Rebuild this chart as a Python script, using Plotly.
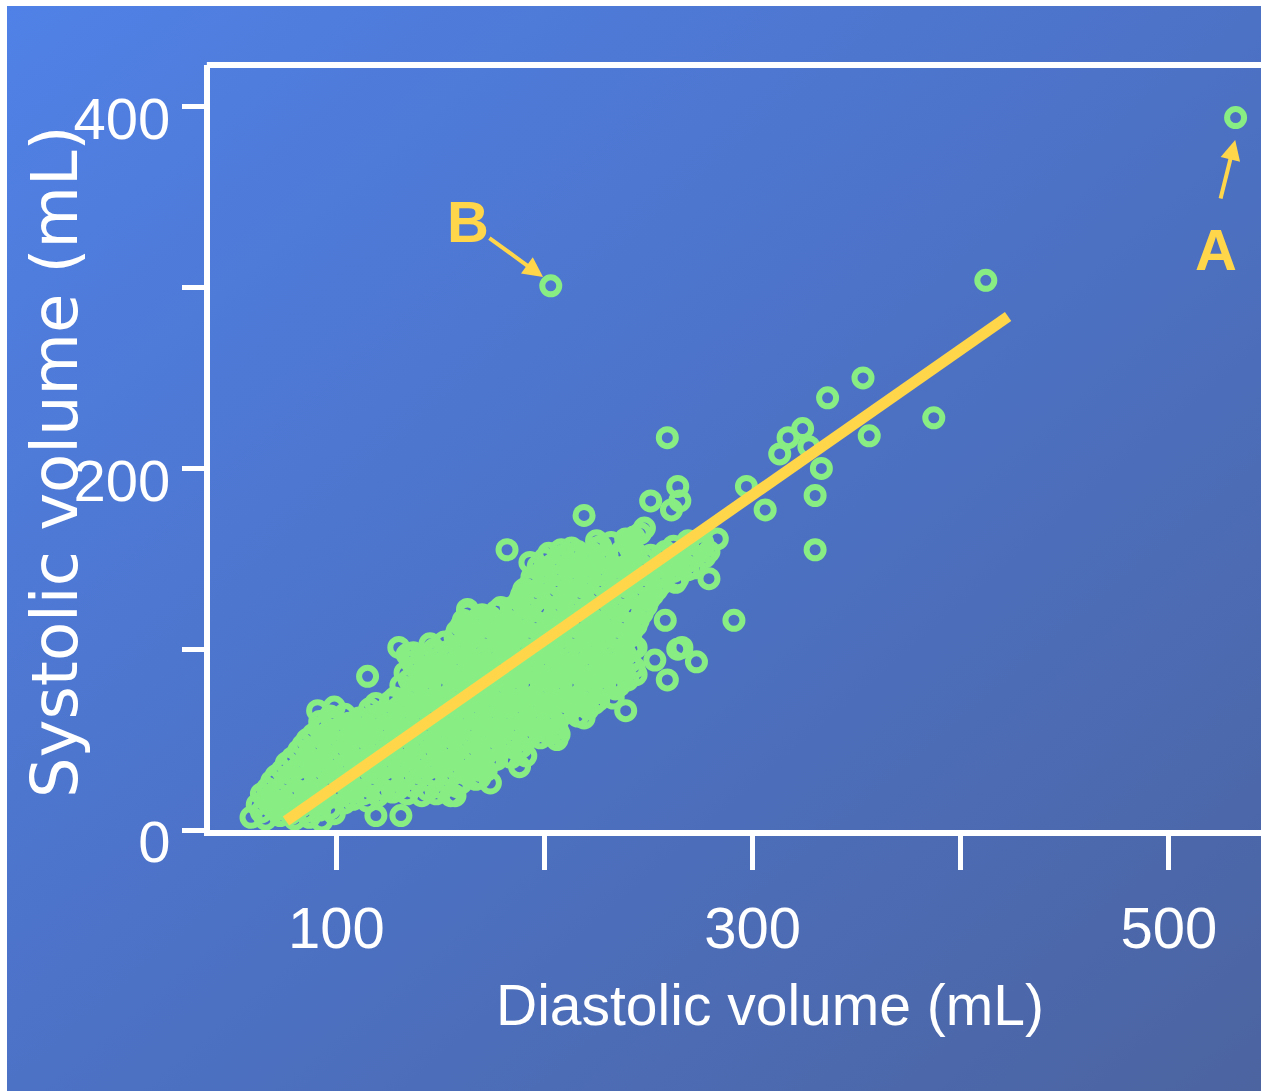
import base64
import plotly.graph_objects as go

# ---------------- data ----------------
# dense cloud of patients: (diastolic mL, systolic mL)
cluster_points = [
    (59, 7), (66, 6), (73, 8), (80, 6), (87, 7), (93, 5), (119, 8), (131, 8),
    (62, 14), (69, 13), (76, 15), (83, 13), (90, 14), (97, 12), (104, 15),
    (64, 20), (71, 21), (78, 19), (85, 21), (92, 20), (99, 19), (106, 21), (113, 20), (120, 19), (127, 21),
    (134, 20), (141, 19), (148, 20), (155, 19),
    (69, 27), (76, 28), (83, 26), (90, 27), (97, 28), (104, 26), (111, 27), (118, 28), (125, 26), (132, 27),
    (139, 28), (146, 26), (153, 27), (160, 26), (167, 28), (174, 26),
    (74, 33), (81, 34), (88, 35), (95, 33), (102, 34), (109, 35), (116, 33), (123, 34), (130, 35), (137, 33),
    (144, 34), (151, 35), (158, 33), (165, 34), (172, 33),
    (79, 40), (86, 41), (93, 39), (100, 40), (107, 41), (114, 39), (121, 40), (128, 41), (135, 39), (142, 40),
    (149, 41), (156, 39), (163, 40), (170, 41), (177, 39), (184, 40), (191, 41),
    (84, 47), (91, 46), (98, 48), (105, 47), (112, 46), (119, 48), (126, 47), (133, 46), (140, 48), (147, 47),
    (154, 46), (161, 48), (168, 47), (175, 46), (182, 48), (189, 46),
    (89, 53), (96, 54), (103, 55), (110, 53), (117, 54), (124, 55), (131, 53), (138, 54), (145, 55), (152, 53),
    (159, 54), (166, 55), (173, 53), (180, 54), (187, 55), (194, 53), (201, 54), (207, 53),
    (92, 60), (99, 61), (106, 59), (113, 60), (120, 61), (127, 59), (134, 60), (141, 61), (148, 59), (155, 60),
    (162, 61), (169, 59), (176, 60), (183, 61), (190, 59), (197, 60), (204, 61),
    (91, 66), (99, 68), (116, 67), (123, 66), (130, 68), (137, 67), (144, 66), (151, 68), (158, 67), (165, 66),
    (172, 68), (179, 67), (186, 66), (193, 68), (200, 67), (207, 66), (214, 68), (221, 67),
    (128, 73), (135, 74), (142, 72), (149, 73), (156, 74), (163, 72), (170, 73), (177, 74), (184, 72), (191, 73),
    (198, 74), (205, 72), (212, 73), (219, 74), (226, 72), (233, 73),
    (131, 80), (138, 79), (145, 81), (152, 80), (159, 79), (166, 81), (173, 80), (180, 79), (187, 81), (194, 80),
    (201, 79), (208, 81), (215, 80), (222, 79), (229, 81), (236, 80),
    (133, 87), (140, 86), (147, 88), (154, 87), (161, 86), (168, 88), (175, 87), (182, 86), (189, 88), (196, 87),
    (203, 86), (210, 88), (217, 87), (224, 86), (231, 88), (238, 87), (244, 86),
    (136, 93), (143, 94), (150, 92), (157, 93), (164, 94), (171, 92), (178, 93), (185, 94), (192, 92), (199, 93),
    (206, 94), (213, 92), (220, 93), (227, 94), (234, 92), (241, 93),
    (147, 100), (154, 99), (161, 101), (168, 100), (175, 99), (182, 101), (189, 100), (196, 99), (203, 101),
    (210, 100), (217, 99), (224, 101), (231, 100), (238, 99), (244, 101),
    (157, 107), (164, 106), (171, 108), (178, 107), (185, 106), (192, 108), (199, 107), (206, 106), (213, 108),
    (220, 107), (227, 106), (234, 108), (241, 107),
    (160, 113), (167, 114), (174, 112), (181, 113), (188, 114), (195, 112), (202, 113), (209, 114), (216, 112),
    (223, 113), (230, 114), (237, 112), (244, 113),
    (163, 120), (170, 119), (177, 121), (184, 120), (191, 119), (198, 121), (205, 120), (212, 119), (219, 121),
    (226, 120), (233, 119), (240, 121), (247, 120),
    (188, 127), (195, 126), (202, 128), (209, 127), (216, 126), (223, 128), (230, 127), (237, 126), (244, 128),
    (250, 127),
    (191, 133), (198, 134), (205, 132), (212, 133), (219, 134), (226, 132), (233, 133), (240, 134), (247, 132),
    (254, 133),
    (194, 140), (201, 139), (208, 141), (215, 140), (222, 139), (229, 141), (236, 140), (243, 139), (250, 141),
    (257, 140), (264, 139),
    (197, 146), (204, 147), (211, 145), (218, 146), (225, 147), (232, 145), (239, 146), (246, 147), (253, 145),
    (260, 146), (267, 147), (272, 145),
    (202, 153), (209, 152), (216, 154), (223, 153), (230, 152), (237, 154), (244, 153), (251, 152), (258, 154),
    (265, 153), (272, 152), (279, 154),
    (225, 160), (232, 159), (239, 161), (269, 160), (276, 159), (283, 161),
]

# more patients inside the dense cloud (between the rows above)
cluster_points_2 = [
    (64, 10), (71, 11), (78, 9), (85, 10), (92, 11), (99, 9),
    (66, 17), (73, 16), (80, 18), (87, 17), (94, 16), (101, 18), (108, 17), (115, 16),
    (67, 23), (74, 24), (81, 22), (88, 23), (95, 24), (102, 22), (109, 23), (116, 24), (123, 22), (130, 23),
    (137, 24), (144, 22), (151, 23), (158, 24),
    (71, 30), (78, 31), (85, 29), (92, 30), (99, 31), (106, 29), (113, 30), (120, 31), (127, 29), (134, 30),
    (141, 31), (148, 29), (155, 30), (162, 31), (169, 29),
    (76, 37), (83, 36), (90, 38), (97, 37), (104, 36), (111, 38), (118, 37), (125, 36), (132, 38), (139, 37),
    (146, 36), (153, 38), (160, 37), (167, 36), (174, 38),
    (82, 44), (89, 43), (96, 45), (103, 44), (110, 43), (117, 45), (124, 44), (131, 43), (138, 45), (145, 44),
    (152, 43), (159, 45), (166, 44), (173, 43), (180, 45), (187, 44),
    (86, 50), (93, 51), (100, 49), (107, 50), (114, 51), (121, 49), (128, 50), (135, 51), (142, 49), (149, 50),
    (156, 51), (163, 49), (170, 50), (177, 51), (184, 49), (191, 50), (198, 51),
    (94, 57), (101, 56), (108, 58), (115, 57), (122, 56), (129, 58), (136, 57), (143, 56), (150, 58), (157, 57),
    (164, 56), (171, 58), (178, 57), (185, 56), (192, 58), (199, 57), (206, 56),
    (97, 63), (104, 64), (111, 62), (118, 63), (125, 64), (132, 62), (139, 63), (146, 64), (153, 62), (160, 63),
    (167, 64), (174, 62), (181, 63), (188, 64), (195, 62), (202, 63), (209, 64), (216, 63),
    (119, 70), (126, 71), (133, 69), (140, 70), (147, 71), (154, 69), (161, 70), (168, 71), (175, 69), (182, 70),
    (189, 71), (196, 69), (203, 70), (210, 71), (217, 69), (224, 70),
    (136, 77), (143, 76), (150, 78), (157, 77), (164, 76), (171, 78), (178, 77), (185, 76), (192, 78), (199, 77),
    (206, 76), (213, 78), (220, 77), (227, 76), (234, 78),
    (135, 83), (142, 84), (149, 82), (156, 83), (163, 84), (170, 82), (177, 83), (184, 84), (191, 82), (198, 83),
    (205, 84), (212, 82), (219, 83), (226, 84), (233, 82), (240, 83),
    (138, 90), (145, 91), (152, 89), (159, 90), (166, 91), (173, 89), (180, 90), (187, 91), (194, 89), (201, 90),
    (208, 91), (215, 89), (222, 90), (229, 91), (236, 89), (243, 90),
    (134, 97), (141, 96), (148, 98), (155, 97), (162, 96), (169, 98), (176, 97), (183, 96), (190, 98), (197, 97),
    (204, 96), (211, 98), (218, 97), (225, 96), (232, 98), (239, 97),
    (145, 103), (152, 104), (159, 102), (166, 103), (173, 104), (180, 102), (187, 103), (194, 104), (201, 102),
    (208, 103), (215, 104), (222, 102), (229, 103), (236, 104), (243, 102),
    (158, 110), (165, 111), (172, 109), (179, 110), (186, 111), (193, 109), (200, 110), (207, 111), (214, 109),
    (221, 110), (228, 111), (235, 109), (242, 110),
    (161, 116), (168, 117), (175, 115), (182, 116), (189, 117), (196, 115), (203, 116), (210, 117), (217, 115),
    (224, 116), (231, 117), (238, 115), (245, 116),
    (179, 123), (186, 124), (193, 122), (200, 123), (207, 124), (214, 122), (221, 123), (228, 124), (235, 122),
    (242, 123), (249, 124),
    (189, 130), (196, 131), (203, 129), (210, 130), (217, 131), (224, 129), (231, 130), (238, 131), (245, 129),
    (252, 130),
    (193, 136), (200, 137), (207, 135), (214, 136), (221, 137), (228, 135), (235, 136), (242, 137), (249, 135),
    (256, 136), (263, 137),
    (199, 143), (206, 144), (213, 142), (220, 143), (227, 144), (234, 142), (241, 143), (248, 144), (255, 142),
    (262, 143), (269, 144),
    (200, 150), (207, 149), (214, 151), (221, 150), (228, 149), (235, 151), (242, 150), (249, 149), (256, 151),
    (263, 150), (270, 149), (277, 151),
    (213, 156), (227, 157), (241, 156), (262, 157), (276, 156),
]

# scattered individual patients around the cloud
outlier_points = [
    (532, 394), (203, 301), (412, 304), (387, 228), (353, 250), (336, 239), (356, 218), (324, 222),
    (317, 217), (313, 208), (327, 212), (333, 200), (330, 185), (330, 155), (297, 190), (306, 177),
    (291, 116), (279, 139), (259, 217), (264, 190), (265, 182), (251, 182), (261, 177), (219, 174),
    (182, 155), (243, 162), (248, 167), (246, 164), (241, 159), (208, 155), (225, 156), (193, 148),
    (214, 146), (229, 149), (190, 133), (184, 123), (174, 118), (163, 122), (248, 123), (258, 116),
    (266, 101), (273, 93), (264, 100), (259, 83), (253, 94), (242, 100), (239, 66), (219, 62),
    (206, 50), (188, 35), (169, 33), (157, 19), (115, 85), (130, 101), (137, 98),
]

# regression line end points
fit_diastolic = [75.8, 422.7]
fit_systolic = [5.0, 284.0]

# callouts: label position, arrow tail, arrow head
callout_labels = ["B", "A"]
callout_text_x = [163.3, 522.7]
callout_text_y = [336.3, 320.8]
callout_tail_x = [172.8, 524.6]
callout_tail_y = [328.0, 348.4]
callout_head_x = [199.3, 531.8]
callout_head_y = [305.8, 381.6]

x_tick_values = [100, 200, 300, 400, 500]
x_tick_text = ["100", "", "300", "", "500"]
y_tick_values = [0, 100, 200, 300, 400]
y_tick_text = ["0", "", "200", "", "400"]

x_title = "Diastolic volume (mL)"
y_title = "Systolic volume (mL)"

# ---------------- styling ----------------
GREEN = "#88ee84"
YELLOW = "#ffd64a"
WHITE = "#ffffff"
FONT = "Liberation Sans, Arial, sans-serif"
FONT_Y = "DejaVu Sans, Liberation Sans, sans-serif"

all_points = cluster_points + cluster_points_2 + outlier_points
dia = [p[0] for p in all_points]
sys_ = [p[1] for p in all_points]

fig = go.Figure()
fig.add_trace(go.Scatter(
    x=dia, y=sys_, mode="markers",
    marker=dict(symbol="circle-open", size=17, color=GREEN, line=dict(width=6, color=GREEN)),
    showlegend=False, hoverinfo="skip",
))
fig.add_trace(go.Scatter(
    x=fit_diastolic, y=fit_systolic, mode="lines",
    line=dict(color=YELLOW, width=11),
    showlegend=False, hoverinfo="skip",
))

# gradient background as inline svg
svg = (
    '<svg xmlns="http://www.w3.org/2000/svg" width="1254" height="1085" viewBox="0 0 1254 1085" '
    'preserveAspectRatio="none"><defs><linearGradient id="g" x1="0" y1="0" x2="1" y2="1">'
    '<stop offset="0" stop-color="#5081e6"/><stop offset="0.5" stop-color="#4c72c6"/>'
    '<stop offset="1" stop-color="#4c64a0"/></linearGradient></defs>'
    '<rect width="1254" height="1085" fill="url(#g)"/></svg>'
)
bg_src = "data:image/svg+xml;base64," + base64.b64encode(svg.encode()).decode()

W, H = 1261, 1091
L, R, T, B = 210, 0, 65, 261
pw, ph = W - L - R, H - T - B

def px_x(px):
    return (px - L) / pw

def px_y(py):
    return (H - B - py) / ph

annotations = [
    dict(text=y_title, xref="paper", yref="paper", x=px_x(55), y=px_y(462), textangle=-90,
         showarrow=False, xanchor="center", yanchor="middle",
         font=dict(family=FONT_Y, size=64, color=WHITE)),
    dict(text=x_title, xref="paper", yref="paper", x=px_x(770), y=px_y(1005),
         showarrow=False, xanchor="center", yanchor="middle",
         font=dict(family=FONT, size=57, color=WHITE)),
]
for i, lab in enumerate(callout_labels):
    annotations.append(dict(
        text=lab, x=callout_text_x[i], y=callout_text_y[i], xref="x", yref="y",
        showarrow=False, xanchor="center", yanchor="middle",
        font=dict(family=FONT, size=58, color=YELLOW, weight="bold"),
    ))
    annotations.append(dict(
        text="", x=callout_head_x[i], y=callout_head_y[i], xref="x", yref="y",
        ax=callout_tail_x[i], ay=callout_tail_y[i], axref="x", ayref="y",
        showarrow=True, arrowhead=2, arrowsize=1, arrowwidth=4, arrowcolor=YELLOW, standoff=0,
    ))

fig.update_layout(
    width=W, height=H,
    margin=dict(l=L, r=R, t=T, b=B, pad=0),
    paper_bgcolor=WHITE,
    plot_bgcolor="rgba(0,0,0,0)",
    images=[dict(source=bg_src, xref="paper", yref="paper",
                 x=px_x(7), y=px_y(6), sizex=(W - 7) / pw, sizey=(H - 6) / ph,
                 xanchor="left", yanchor="top", sizing="stretch", layer="below")],
    xaxis=dict(range=[39.3, 544.2], showgrid=False, zeroline=False,
               showline=True, linecolor=WHITE, linewidth=6,
               ticks="outside", tickvals=x_tick_values, ticktext=x_tick_text,
               ticklen=34, tickwidth=5, tickcolor=WHITE, ticklabelstandoff=8,
               tickfont=dict(family=FONT, size=58, color=WHITE)),
    yaxis=dict(range=[0, 423.1], showgrid=False, zeroline=False,
               showline=True, linecolor=WHITE, linewidth=6,
               ticks="outside", tickvals=y_tick_values, ticktext=y_tick_text,
               ticklen=22, tickwidth=5, tickcolor=WHITE, ticklabelstandoff=0,
               ticklabelshift=12,
               tickfont=dict(family=FONT, size=58, color=WHITE)),
    shapes=[dict(type="line", xref="paper", yref="paper", x0=-0.003, x1=1, y0=1, y1=1,
                 line=dict(color=WHITE, width=6))],
    annotations=annotations,
)

fig.write_html("out.html")
